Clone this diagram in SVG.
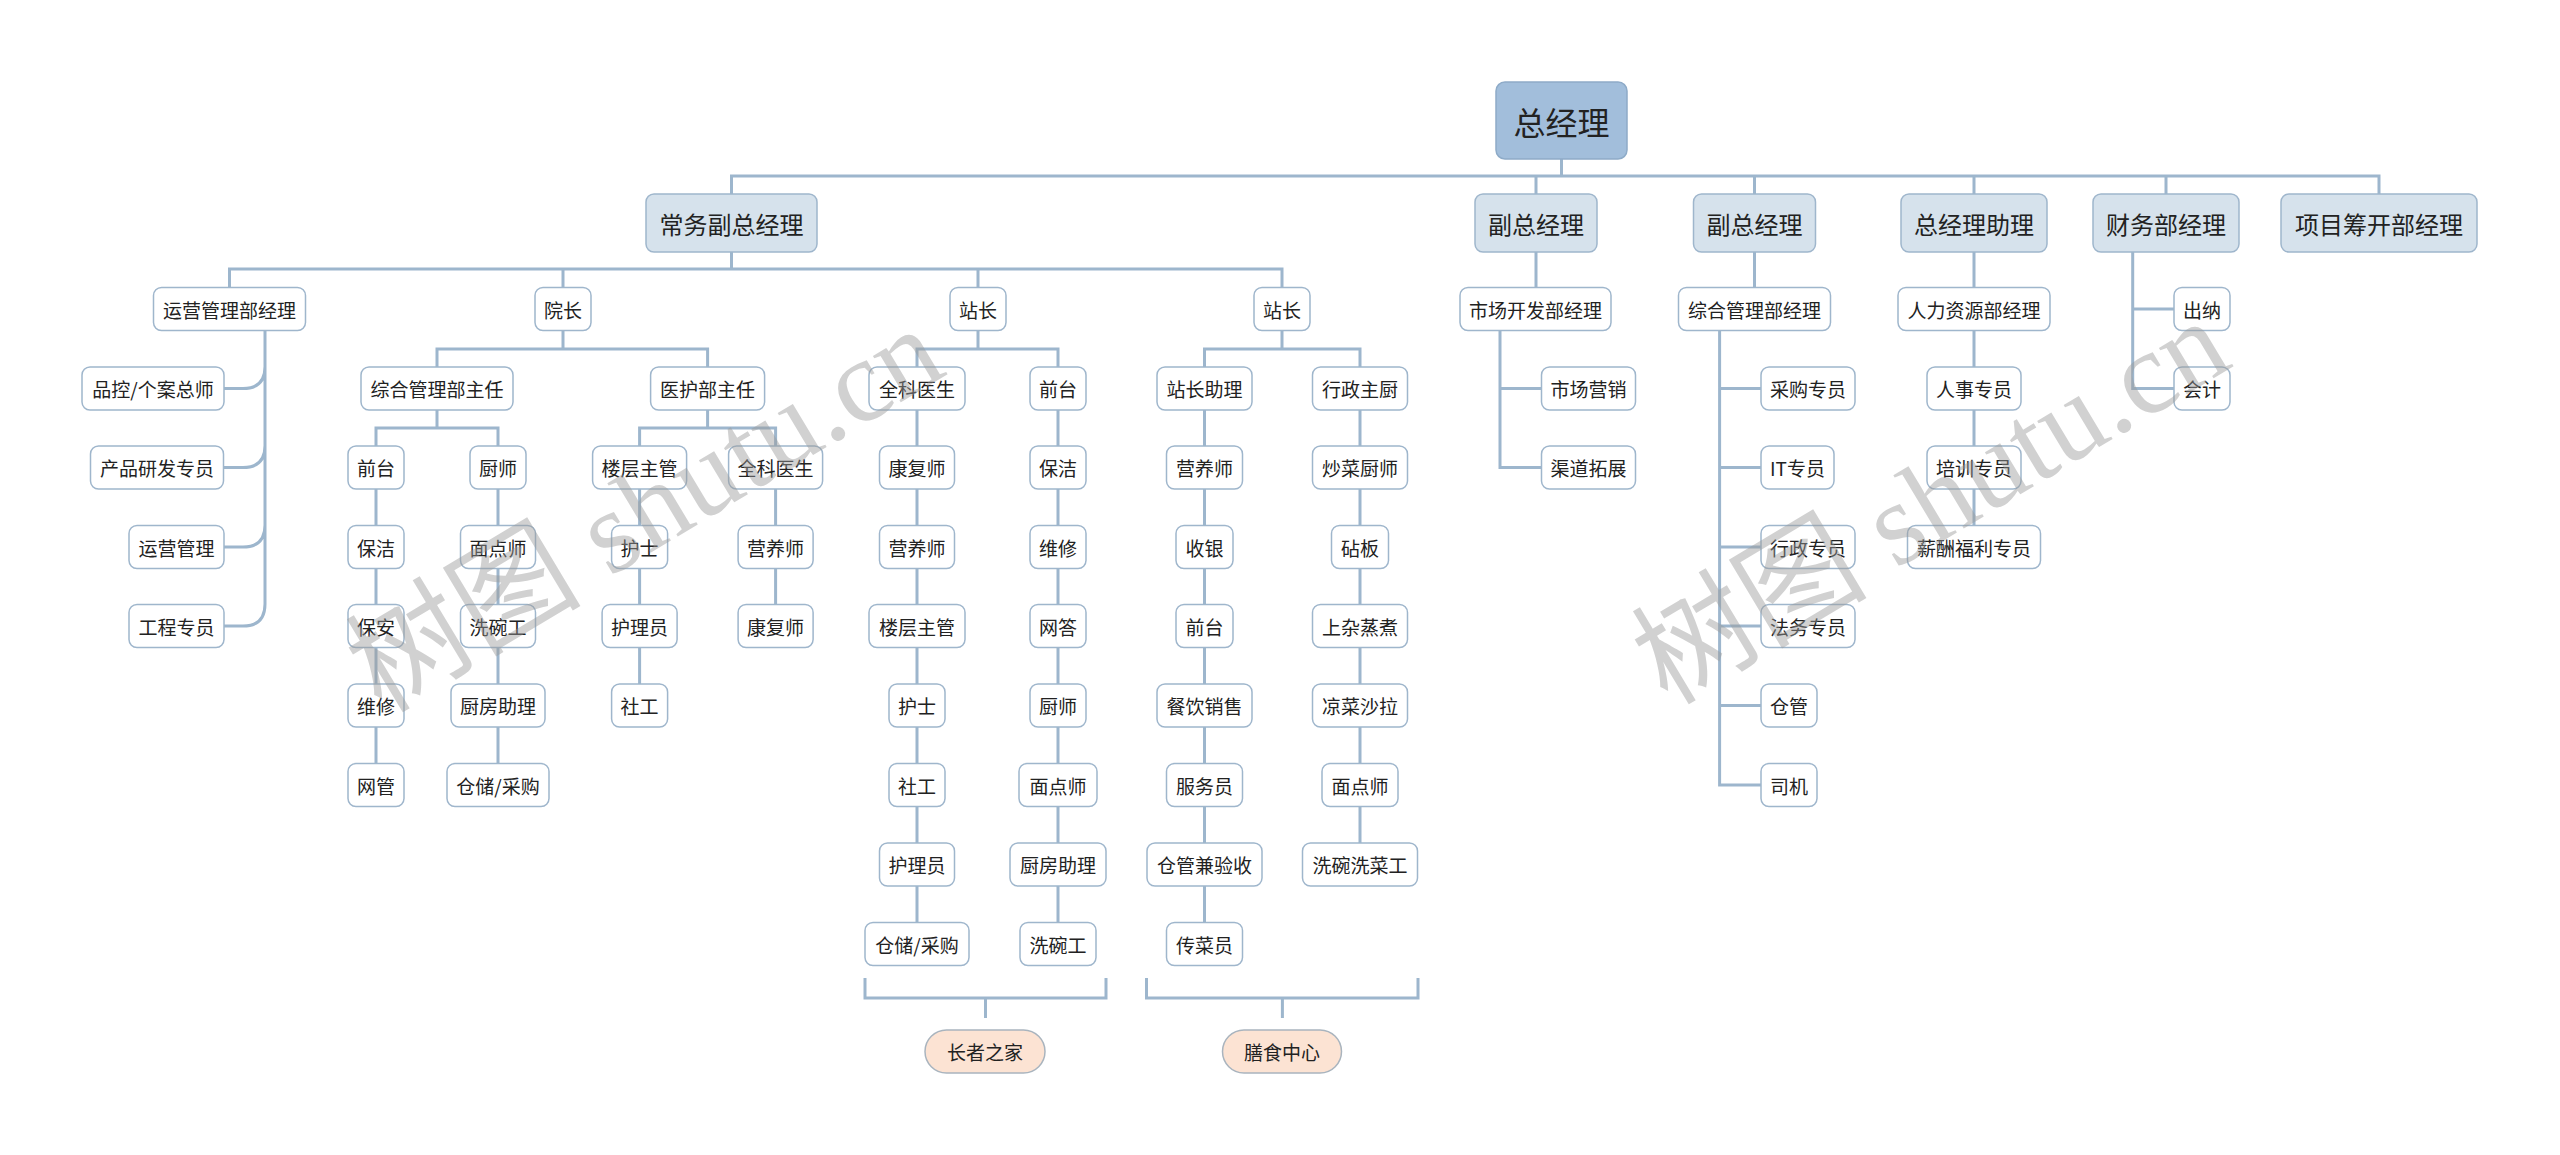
<svg xmlns="http://www.w3.org/2000/svg" width="2560" height="1155" viewBox="0 0 2560 1155">
<style>
.n rect{fill:#fff;stroke:#9fb6cc;stroke-width:1.5}
.n text{font-family:"Noto Sans CJK SC","Noto Sans",sans-serif;font-size:19px;fill:#222;text-anchor:middle;dominant-baseline:central}
.l1 rect{fill:#d6e2ec}
.l1 text{font-size:24px}
.root rect{fill:#a2bedb;stroke:#8eabc8}
.root text{font-size:32px}
.pill rect{fill:#fce3d3;stroke:#a9b4be}
.c path{fill:none;stroke:#9db6cd;stroke-width:3}
.wm{font-family:"Liberation Serif","Noto Sans CJK SC",serif;font-size:118px;fill:#9a9a9a;opacity:0.45;text-anchor:middle;dominant-baseline:central}
</style>
<rect width="2560" height="1155" fill="#fff"/>
<g id="connectors" class="c">
<path d="M1561.5,159V176M731.5,194V176H2379V194M1536,176V194M1754.5,176V194M1974,176V194M2166,176V194" stroke-width="4"/>
<path d="M731.5,252V269M229.5,287.5V269H1282V287.5M563,269V287.5M978,269V287.5"/>
<path d="M265,330.5V604M265,366.5Q265,388.5 243,388.5H224M265,445.5Q265,467.5 243,467.5H224M265,525Q265,547 243,547H224M265,604Q265,626 243,626H224"/>
<path d="M563,330.5V349M437,367V349H707.6V367"/>
<path d="M437,410V428M376,446V428H498V446M376,489V763.5M498,489V763.5"/>
<path d="M707.6,410V428M639.6,446V428H775.6V446M639.6,489V684M775.6,489V604.5"/>
<path d="M978,330.5V349M917,367V349H1058V367M917,410V922.5M1058,410V922.5"/>
<path d="M1282,330.5V349M1204.5,367V349H1360V367M1204.5,410V922.5M1360,410V843"/>
<path d="M1536,252V287.5M1500,330.5V467.5H1541.5M1500,388.5H1541.5"/>
<path d="M1754.5,252V287.5M1719.6,330.5V785H1761M1719.6,388.5H1761M1719.6,467.5H1761M1719.6,547H1761M1719.6,626H1761M1719.6,705.5H1761"/>
<path d="M1974,252V287.5M1974,330.5V525.5"/>
<path d="M2132.7,252V388.5H2174M2132.7,309H2174"/>
<path d="M865,978V998H1106V978M985.5,998V1018M1146.5,978V998H1418V978M1282.4,998V1018"/>
</g>
<g id="root" class="n root"><rect x="1496" y="82" width="131" height="77" rx="9"/><text x="1561.5" y="120.5">总经理</text></g>
<g id="l1_a" class="n l1"><rect x="646" y="194" width="171" height="58" rx="8"/><text x="731.5" y="223">常务副总经理</text></g>
<g id="l1_b" class="n l1"><rect x="1475" y="194" width="122" height="58" rx="8"/><text x="1536" y="223">副总经理</text></g>
<g id="l1_c" class="n l1"><rect x="1693.5" y="194" width="122" height="58" rx="8"/><text x="1754.5" y="223">副总经理</text></g>
<g id="l1_d" class="n l1"><rect x="1901" y="194" width="146" height="58" rx="8"/><text x="1974" y="223">总经理助理</text></g>
<g id="l1_e" class="n l1"><rect x="2093" y="194" width="146" height="58" rx="8"/><text x="2166" y="223">财务部经理</text></g>
<g id="l1_f" class="n l1"><rect x="2281" y="194" width="196" height="58" rx="8"/><text x="2379" y="223">项目筹开部经理</text></g>
<g id="n1" class="n"><rect x="153.5" y="287.5" width="152" height="43" rx="8"/><text x="229.5" y="309">运营管理部经理</text></g>
<g id="n2" class="n"><rect x="82" y="367" width="142" height="43" rx="8"/><text x="153" y="388.5">品控/个案总师</text></g>
<g id="n3" class="n"><rect x="90.5" y="446" width="133" height="43" rx="8"/><text x="157" y="467.5">产品研发专员</text></g>
<g id="n4" class="n"><rect x="129" y="525.5" width="95" height="43" rx="8"/><text x="176.5" y="547">运营管理</text></g>
<g id="n5" class="n"><rect x="129" y="604.5" width="95" height="43" rx="8"/><text x="176.5" y="626">工程专员</text></g>
<g id="n6" class="n"><rect x="535" y="287.5" width="56" height="43" rx="8"/><text x="563" y="309">院长</text></g>
<g id="n7" class="n"><rect x="361" y="367" width="152" height="43" rx="8"/><text x="437" y="388.5">综合管理部主任</text></g>
<g id="n8" class="n"><rect x="650.6" y="367" width="114" height="43" rx="8"/><text x="707.6" y="388.5">医护部主任</text></g>
<g id="n9" class="n"><rect x="348" y="446" width="56" height="43" rx="8"/><text x="376" y="467.5">前台</text></g>
<g id="n10" class="n"><rect x="348" y="525.5" width="56" height="43" rx="8"/><text x="376" y="547">保洁</text></g>
<g id="n11" class="n"><rect x="348" y="604.5" width="56" height="43" rx="8"/><text x="376" y="626">保安</text></g>
<g id="n12" class="n"><rect x="348" y="684" width="56" height="43" rx="8"/><text x="376" y="705.5">维修</text></g>
<g id="n13" class="n"><rect x="348" y="763.5" width="56" height="43" rx="8"/><text x="376" y="785">网管</text></g>
<g id="n14" class="n"><rect x="470" y="446" width="56" height="43" rx="8"/><text x="498" y="467.5">厨师</text></g>
<g id="n15" class="n"><rect x="460.5" y="525.5" width="75" height="43" rx="8"/><text x="498" y="547">面点师</text></g>
<g id="n16" class="n"><rect x="460.5" y="604.5" width="75" height="43" rx="8"/><text x="498" y="626">洗碗工</text></g>
<g id="n17" class="n"><rect x="451" y="684" width="94" height="43" rx="8"/><text x="498" y="705.5">厨房助理</text></g>
<g id="n18" class="n"><rect x="447" y="763.5" width="102" height="43" rx="8"/><text x="498" y="785">仓储/采购</text></g>
<g id="n19" class="n"><rect x="592.6" y="446" width="94" height="43" rx="8"/><text x="639.6" y="467.5">楼层主管</text></g>
<g id="n20" class="n"><rect x="611.6" y="525.5" width="56" height="43" rx="8"/><text x="639.6" y="547">护士</text></g>
<g id="n21" class="n"><rect x="602.1" y="604.5" width="75" height="43" rx="8"/><text x="639.6" y="626">护理员</text></g>
<g id="n22" class="n"><rect x="611.6" y="684" width="56" height="43" rx="8"/><text x="639.6" y="705.5">社工</text></g>
<g id="n23" class="n"><rect x="728.6" y="446" width="94" height="43" rx="8"/><text x="775.6" y="467.5">全科医生</text></g>
<g id="n24" class="n"><rect x="738.1" y="525.5" width="75" height="43" rx="8"/><text x="775.6" y="547">营养师</text></g>
<g id="n25" class="n"><rect x="738.1" y="604.5" width="75" height="43" rx="8"/><text x="775.6" y="626">康复师</text></g>
<g id="n26" class="n"><rect x="950" y="287.5" width="56" height="43" rx="8"/><text x="978" y="309">站长</text></g>
<g id="n27" class="n"><rect x="869" y="367" width="96" height="43" rx="8"/><text x="917" y="388.5">全科医生</text></g>
<g id="n28" class="n"><rect x="879.5" y="446" width="75" height="43" rx="8"/><text x="917" y="467.5">康复师</text></g>
<g id="n29" class="n"><rect x="879.5" y="525.5" width="75" height="43" rx="8"/><text x="917" y="547">营养师</text></g>
<g id="n30" class="n"><rect x="869" y="604.5" width="96" height="43" rx="8"/><text x="917" y="626">楼层主管</text></g>
<g id="n31" class="n"><rect x="889" y="684" width="56" height="43" rx="8"/><text x="917" y="705.5">护士</text></g>
<g id="n32" class="n"><rect x="889" y="763.5" width="56" height="43" rx="8"/><text x="917" y="785">社工</text></g>
<g id="n33" class="n"><rect x="879.5" y="843" width="75" height="43" rx="8"/><text x="917" y="864.5">护理员</text></g>
<g id="n34" class="n"><rect x="865" y="922.5" width="104" height="43" rx="8"/><text x="917" y="944">仓储/采购</text></g>
<g id="n35" class="n"><rect x="1030" y="367" width="56" height="43" rx="8"/><text x="1058" y="388.5">前台</text></g>
<g id="n36" class="n"><rect x="1030" y="446" width="56" height="43" rx="8"/><text x="1058" y="467.5">保洁</text></g>
<g id="n37" class="n"><rect x="1030" y="525.5" width="56" height="43" rx="8"/><text x="1058" y="547">维修</text></g>
<g id="n38" class="n"><rect x="1030" y="604.5" width="56" height="43" rx="8"/><text x="1058" y="626">网答</text></g>
<g id="n39" class="n"><rect x="1030" y="684" width="56" height="43" rx="8"/><text x="1058" y="705.5">厨师</text></g>
<g id="n40" class="n"><rect x="1019" y="763.5" width="78" height="43" rx="8"/><text x="1058" y="785">面点师</text></g>
<g id="n41" class="n"><rect x="1010" y="843" width="96" height="43" rx="8"/><text x="1058" y="864.5">厨房助理</text></g>
<g id="n42" class="n"><rect x="1020" y="922.5" width="76" height="43" rx="8"/><text x="1058" y="944">洗碗工</text></g>
<g id="n43" class="n"><rect x="1254" y="287.5" width="56" height="43" rx="8"/><text x="1282" y="309">站长</text></g>
<g id="n44" class="n"><rect x="1157" y="367" width="95" height="43" rx="8"/><text x="1204.5" y="388.5">站长助理</text></g>
<g id="n45" class="n"><rect x="1166.5" y="446" width="76" height="43" rx="8"/><text x="1204.5" y="467.5">营养师</text></g>
<g id="n46" class="n"><rect x="1176" y="525.5" width="57" height="43" rx="8"/><text x="1204.5" y="547">收银</text></g>
<g id="n47" class="n"><rect x="1176" y="604.5" width="57" height="43" rx="8"/><text x="1204.5" y="626">前台</text></g>
<g id="n48" class="n"><rect x="1157" y="684" width="95" height="43" rx="8"/><text x="1204.5" y="705.5">餐饮销售</text></g>
<g id="n49" class="n"><rect x="1166.5" y="763.5" width="76" height="43" rx="8"/><text x="1204.5" y="785">服务员</text></g>
<g id="n50" class="n"><rect x="1147" y="843" width="115" height="43" rx="8"/><text x="1204.5" y="864.5">仓管兼验收</text></g>
<g id="n51" class="n"><rect x="1166.5" y="922.5" width="76" height="43" rx="8"/><text x="1204.5" y="944">传菜员</text></g>
<g id="n52" class="n"><rect x="1312.5" y="367" width="95" height="43" rx="8"/><text x="1360" y="388.5">行政主厨</text></g>
<g id="n53" class="n"><rect x="1312.5" y="446" width="95" height="43" rx="8"/><text x="1360" y="467.5">炒菜厨师</text></g>
<g id="n54" class="n"><rect x="1331.5" y="525.5" width="57" height="43" rx="8"/><text x="1360" y="547">砧板</text></g>
<g id="n55" class="n"><rect x="1312.5" y="604.5" width="95" height="43" rx="8"/><text x="1360" y="626">上杂蒸煮</text></g>
<g id="n56" class="n"><rect x="1312.5" y="684" width="95" height="43" rx="8"/><text x="1360" y="705.5">凉菜沙拉</text></g>
<g id="n57" class="n"><rect x="1322" y="763.5" width="76" height="43" rx="8"/><text x="1360" y="785">面点师</text></g>
<g id="n58" class="n"><rect x="1302.5" y="843" width="115" height="43" rx="8"/><text x="1360" y="864.5">洗碗洗菜工</text></g>
<g id="n59" class="n"><rect x="1460" y="287.5" width="151" height="43" rx="8"/><text x="1535.5" y="309">市场开发部经理</text></g>
<g id="n60" class="n"><rect x="1541.5" y="367" width="94" height="43" rx="8"/><text x="1588.5" y="388.5">市场营销</text></g>
<g id="n61" class="n"><rect x="1541.5" y="446" width="94" height="43" rx="8"/><text x="1588.5" y="467.5">渠道拓展</text></g>
<g id="n62" class="n"><rect x="1678.5" y="287.5" width="152" height="43" rx="8"/><text x="1754.5" y="309">综合管理部经理</text></g>
<g id="n63" class="n"><rect x="1761" y="367" width="94" height="43" rx="8"/><text x="1808" y="388.5">采购专员</text></g>
<g id="n64" class="n"><rect x="1761" y="446" width="73" height="43" rx="8"/><text x="1797.5" y="467.5">IT专员</text></g>
<g id="n65" class="n"><rect x="1761" y="525.5" width="94" height="43" rx="8"/><text x="1808" y="547">行政专员</text></g>
<g id="n66" class="n"><rect x="1761" y="604.5" width="94" height="43" rx="8"/><text x="1808" y="626">法务专员</text></g>
<g id="n67" class="n"><rect x="1761" y="684" width="56" height="43" rx="8"/><text x="1789" y="705.5">仓管</text></g>
<g id="n68" class="n"><rect x="1761" y="763.5" width="56" height="43" rx="8"/><text x="1789" y="785">司机</text></g>
<g id="n69" class="n"><rect x="1898" y="287.5" width="152" height="43" rx="8"/><text x="1974" y="309">人力资源部经理</text></g>
<g id="n70" class="n"><rect x="1927" y="367" width="94" height="43" rx="8"/><text x="1974" y="388.5">人事专员</text></g>
<g id="n71" class="n"><rect x="1927" y="446" width="94" height="43" rx="8"/><text x="1974" y="467.5">培训专员</text></g>
<g id="n72" class="n"><rect x="1907.5" y="525.5" width="133" height="43" rx="8"/><text x="1974" y="547">薪酬福利专员</text></g>
<g id="n73" class="n"><rect x="2174" y="287.5" width="56" height="43" rx="8"/><text x="2202" y="309">出纳</text></g>
<g id="n74" class="n"><rect x="2174" y="367" width="56" height="43" rx="8"/><text x="2202" y="388.5">会计</text></g>
<g id="p1" class="n pill"><rect x="925" y="1030" width="120" height="43" rx="21.5"/><text x="985" y="1051.5">长者之家</text></g>
<g id="p2" class="n pill"><rect x="1222.5" y="1030" width="119" height="43" rx="21.5"/><text x="1282" y="1051.5">膳食中心</text></g>
<g id="watermark">
<text class="wm" transform="translate(645,510) rotate(-31)">树图 shutu.cn</text>
<text class="wm" transform="translate(1931,502) rotate(-31)">树图 shutu.cn</text>
</g>
</svg>
